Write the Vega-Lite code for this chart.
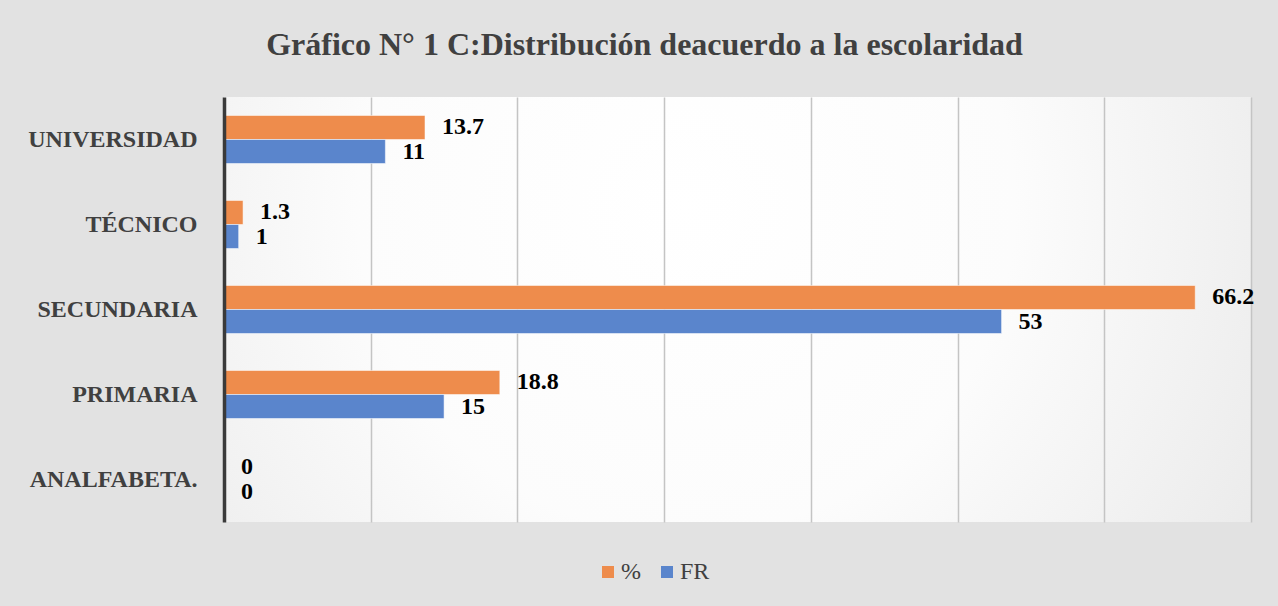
{
  "$schema": "https://vega.github.io/schema/vega-lite/v6.json",
  "width": 1027,
  "height": 425,
  "autosize": {"type": "none"},
  "padding": {"left": 224, "top": 97, "right": 27, "bottom": 84},
  "background": "#e2e2e2",
  "config": {
    "view": {
      "stroke": null,
      "fill": {
        "gradient": "radial",
        "x1": 0.45, "y1": 0.4, "r1": 0,
        "x2": 0.45, "y2": 0.4, "r2": 0.8,
        "stops": [
          {"offset": 0, "color": "#ffffff"},
          {"offset": 0.4, "color": "#fcfcfc"},
          {"offset": 1, "color": "#e2e2e2"}
        ]
      }
    },
    "font": "Liberation Serif"
  },
  "title": {
    "text": "Gráfico N° 1 C:Distribución deacuerdo a la escolaridad",
    "font": "Liberation Serif",
    "fontSize": 32,
    "fontWeight": "bold",
    "color": "#404040",
    "anchor": "middle",
    "dx": -93,
    "offset": 10,
    "baseline": "alphabetic"
  },
  "data": {
    "values": [
      {"nivel": "UNIVERSIDAD", "serie": "%", "valor": 13.7},
      {"nivel": "UNIVERSIDAD", "serie": "FR", "valor": 11},
      {"nivel": "TÉCNICO", "serie": "%", "valor": 1.3},
      {"nivel": "TÉCNICO", "serie": "FR", "valor": 1},
      {"nivel": "SECUNDARIA", "serie": "%", "valor": 66.2},
      {"nivel": "SECUNDARIA", "serie": "FR", "valor": 53},
      {"nivel": "PRIMARIA", "serie": "%", "valor": 18.8},
      {"nivel": "PRIMARIA", "serie": "FR", "valor": 15},
      {"nivel": "ANALFABETA.", "serie": "%", "valor": 0},
      {"nivel": "ANALFABETA.", "serie": "FR", "valor": 0}
    ]
  },
  "encoding": {
    "y": {
      "field": "nivel",
      "type": "nominal",
      "sort": ["UNIVERSIDAD", "TÉCNICO", "SECUNDARIA", "PRIMARIA", "ANALFABETA."],
      "scale": {"paddingInner": 0.435, "paddingOuter": 0.2175},
      "axis": {
        "title": null,
        "domainColor": "#3a3a3a",
        "domainWidth": 3.5,
        "ticks": false,
        "tickSize": 0,
        "labelFont": "Liberation Serif",
        "labelFontSize": 24,
        "labelFontWeight": "bold",
        "labelColor": "#404040",
        "labelPadding": 27,
        "zindex": 2
      }
    },
    "yOffset": {"field": "serie", "type": "nominal", "sort": ["%", "FR"]},
    "x": {
      "field": "valor",
      "type": "quantitative",
      "scale": {"domain": [0, 70], "nice": false},
      "axis": {
        "title": null,
        "labels": false,
        "ticks": false,
        "domain": false,
        "grid": true,
        "gridColor": "#c4c4c4",
        "gridWidth": 1.5,
        "values": [10, 20, 30, 40, 50, 60, 70]
      }
    }
  },
  "layer": [
    {
      "mark": {"type": "bar", "stroke": "#ffffff", "strokeOpacity": 0.5, "strokeWidth": 1},
      "encoding": {
        "color": {
          "field": "serie",
          "type": "nominal",
          "scale": {"domain": ["%", "FR"], "range": ["#EE8C4C", "#5A85CC"]},
          "legend": {
            "title": null,
            "orient": "none",
            "legendX": 372,
            "legendY": 463,
            "direction": "horizontal",
            "symbolType": "square",
            "symbolSize": 144,
            "symbolStrokeWidth": 0,
            "labelFont": "Liberation Serif",
            "labelFontSize": 24,
            "labelColor": "#404040",
            "labelOffset": 1,
            "columnPadding": 14,
            "padding": 0
          }
        }
      }
    },
    {
      "mark": {
        "type": "text",
        "align": "left",
        "baseline": "middle",
        "dx": 17,
        "font": "Liberation Serif",
        "fontSize": 24,
        "fontWeight": "bold",
        "color": "#000000"
      },
      "encoding": {"text": {"field": "valor", "type": "quantitative"}}
    }
  ]
}
